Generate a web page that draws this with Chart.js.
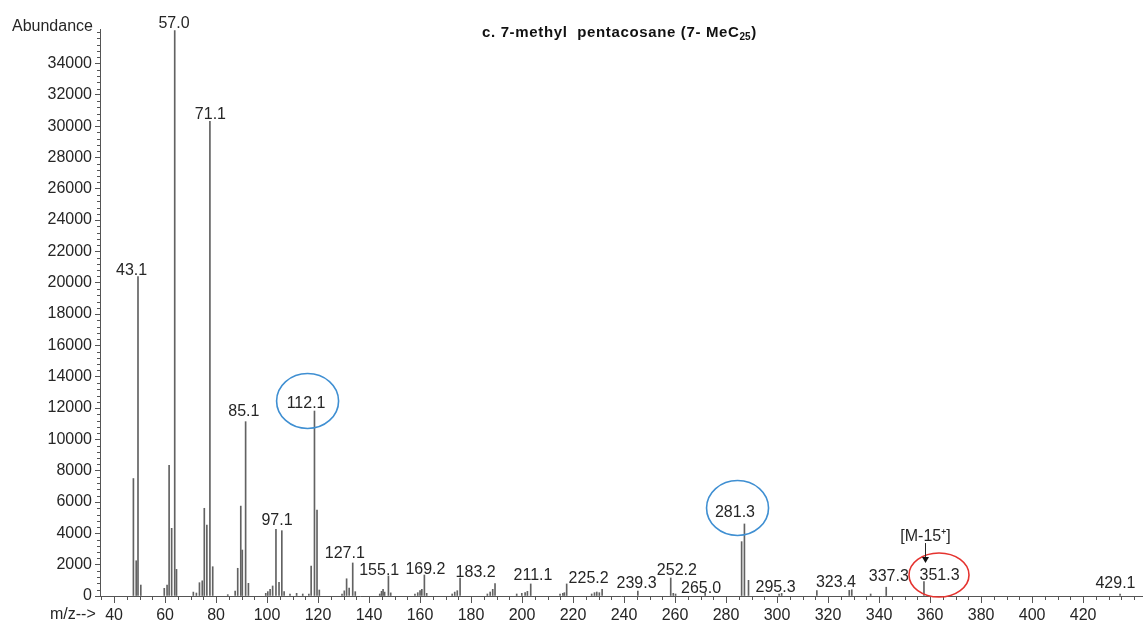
<!DOCTYPE html>
<html>
<head>
<meta charset="utf-8">
<script src="https://cdn.jsdelivr.net/npm/chart.js@4.4.1/dist/chart.umd.min.js"></script>
<style>
    html, body { margin: 0; padding: 0; background: #fff; }
    canvas { display: block; }
</style>
</head>
<body>
<canvas id="espectro" width="1144" height="621"></canvas>
<script>
// Posições dos picos no eixo m/z (como aparecem no gráfico)
const picosMz = [
    47.6, 48.7, 49.4, 50.5,
    59.7, 60.8, 61.6, 62.6, 63.8, 64.5,
    71.1, 72.3, 73.5, 74.6, 75.4, 76.4, 77.6, 78.7,
    84.6, 87.5, 88.5, 89.7, 90.3, 91.6, 92.7,
    99.5, 100.3, 101.2, 102.2, 103.5, 104.7, 105.8, 106.7,
    109.0, 111.6, 114.0, 116.4,
    117.3, 118.6, 119.6, 120.5,
    129.4, 130.3, 131.2, 132.2, 133.6, 134.6,
    144.2, 144.9, 145.5, 146.1, 147.6, 148.5,
    158.0, 159.1, 160.0, 160.7, 161.7, 162.6,
    172.6, 173.6, 174.6, 175.7,
    186.4, 187.5, 188.5, 189.4,
    197.9, 199.9, 201.2, 202.1, 203.4,
    214.9, 216.0, 216.6, 217.5,
    227.3, 228.4, 229.3, 230.3, 231.4,
    245.4,
    258.3, 259.3, 260.2,
    271.8,
    286.1, 287.2, 288.8,
    300.8, 301.8,
    315.6, 328.3, 329.3,
    336.7, 342.8,
    357.6,
    434.5
];

// Abundância de cada pico
const picosAbund = [
    7500, 2250, 20400, 700,
    490, 700, 8340, 4320, 36100, 1700,
    250, 190, 850, 970, 5600, 4530, 30300, 1870,
    85, 320, 1770, 5740, 2935, 11130, 810,
    170, 280, 425, 640, 4255, 870, 4170, 277,
    128, 170, 128, 130,
    1915, 11810, 5490, 383,
    128, 330, 1100, 510, 2110, 277,
    128, 300, 425, 250, 1280, 200,
    128, 213, 340, 425, 1340, 170,
    128, 250, 340, 1150,
    128, 255, 425, 790,
    128, 170, 213, 300, 770,
    128, 170, 213, 770,
    128, 213, 255, 213, 425,
    320,
    1150, 170, 128,
    200,
    3470, 4600, 1000,
    128, 170,
    340, 360, 400,
    128, 560,
    913,
    128
];

// Rótulos dos picos (posição do texto no eixo, altura da linha de base, texto)
const rotulosMz = [46.9, 63.5, 77.8, 90.9, 103.9, 115.3, 130.5, 144.0, 162.1, 181.8, 204.3,
    226.1, 244.9, 260.7, 270.2, 283.5, 299.4, 323.1, 343.8, 363.7, 432.7];
const rotulosAbund = [20500, 36240, 30450, 11470, 4530, 11980, 2400, 1340, 1430, 1230, 990,
    860, 490, 1340, 190, 5020, 275, 545, 945, 1020, 510];
const rotulosTexto = ['43.1', '57.0', '71.1', '85.1', '97.1', '112.1', '127.1', '155.1', '169.2', '183.2', '211.1',
    '225.2', '239.3', '252.2', '265.0', '281.3', '295.3', '323.4', '337.3', '351.3', '429.1'];

// Marcas dos eixos
const ticksX = [40, 60, 80, 100, 120, 140, 160, 180, 200, 220, 240, 260, 280, 300, 320, 340, 360, 380, 400, 420];
const ticksY = [0, 2000, 4000, 6000, 8000, 10000, 12000, 14000, 16000, 18000, 20000,
    22000, 24000, 26000, 28000, 30000, 32000, 34000];

// Círculos de destaque (centro no eixo m/z e na abundância)
const circulosMz = [115.9, 284.5, 363.5];
const circulosAbund = [12450, 5620, 1340];
const circulosCor = ['#3f8fd2', '#3f8fd2', '#e5332f'];

// Seta do íon [M-15+]
const setaMz = 358.2;
const setaTopo = 3380;
const setaPonta = 2100;
const setaTexto = '[M-15\u207A]';
const setaTextoAbund = 3510;

const fonte = '"Liberation Sans", Arial, sans-serif';
const corTexto = '#262626';
const corEixo = '#555';

// Plugin para desenhar textos, círculos, seta e marcas menores
const pluginAnotacoes = {
    id: 'anotacoes',
    afterDraw(chart) {
        const { ctx, chartArea } = chart;
        const x = chart.scales.x;
        const y = chart.scales.y;
        ctx.save();

        // marcas menores dos eixos
        ctx.strokeStyle = corEixo;
        ctx.lineWidth = 1;
        ctx.beginPath();
        for (let v = 35; v <= 440; v += 5) {
            if (v % 20 === 0 && v <= 420) continue;
            const px = Math.round(x.getPixelForValue(v)) + 0.5;
            ctx.moveTo(px, chartArea.bottom);
            ctx.lineTo(px, chartArea.bottom + 4);
        }
        for (let v = 400; v <= 36000; v += 400) {
            if (v % 2000 === 0 && v <= 34000) continue;
            const py = Math.round(y.getPixelForValue(v)) + 0.5;
            ctx.moveTo(chartArea.left - 3, py);
            ctx.lineTo(chartArea.left, py);
        }
        ctx.stroke();

        // rótulos dos picos
        ctx.fillStyle = corTexto;
        ctx.font = '16px ' + fonte;
        ctx.textAlign = 'center';
        ctx.textBaseline = 'alphabetic';
        rotulosTexto.forEach((texto, i) => {
            ctx.fillText(texto, x.getPixelForValue(rotulosMz[i]), y.getPixelForValue(rotulosAbund[i]));
        });

        // círculos
        ctx.lineWidth = 1.6;
        circulosMz.forEach((mz, i) => {
            ctx.strokeStyle = circulosCor[i];
            ctx.beginPath();
            const rx = i === 2 ? 30 : 31;
            const ry = i === 2 ? 22 : 27.5;
            ctx.ellipse(x.getPixelForValue(mz), y.getPixelForValue(circulosAbund[i]), rx, ry, 0, 0, Math.PI * 2);
            ctx.stroke();
        });

        // seta [M-15+]
        const sx = Math.round(x.getPixelForValue(setaMz)) + 0.5;
        const sTopo = y.getPixelForValue(setaTopo);
        const sPonta = y.getPixelForValue(setaPonta);
        ctx.strokeStyle = corTexto;
        ctx.lineWidth = 1;
        ctx.beginPath();
        ctx.moveTo(sx, sTopo);
        ctx.lineTo(sx, sPonta - 6);
        ctx.stroke();
        ctx.fillStyle = '#111';
        ctx.beginPath();
        ctx.moveTo(sx - 3.5, sPonta - 6);
        ctx.lineTo(sx + 3.5, sPonta - 6);
        ctx.lineTo(sx, sPonta);
        ctx.closePath();
        ctx.fill();
        ctx.fillStyle = corTexto;
        ctx.font = '16px ' + fonte;
        ctx.fillText(setaTexto, sx, y.getPixelForValue(setaTextoAbund));

        // textos fixos: Abundance e m/z-->
        ctx.textAlign = 'left';
        ctx.fillText('Abundance', 12, 30.5);
        ctx.fillText('m/z-->', 50, 619);

        // título com subscrito
        ctx.fillStyle = '#111';
        ctx.font = 'bold 15px ' + fonte;
        ctx.letterSpacing = '0.65px';
        const parte1 = 'c. 7-methyl  pentacosane (7- MeC';
        ctx.fillText(parte1, 482, 36.5);
        let largura = ctx.measureText(parte1).width;
        ctx.font = 'bold 10px ' + fonte;
        ctx.letterSpacing = '0px';
        ctx.fillText('25', 482 + largura, 40);
        largura += ctx.measureText('25').width;
        ctx.font = 'bold 15px ' + fonte;
        ctx.fillText(')', 482 + largura + 0.5, 36.5);

        ctx.restore();
    }
};

// Criar o gráfico de barras finas (espectro de massa)
const ctx = document.getElementById('espectro').getContext('2d');
const grafico = new Chart(ctx, {
    type: 'bar',
    data: {
        datasets: [{
            data: picosMz.map((mz, i) => ({ x: mz, y: picosAbund[i] })),
            backgroundColor: '#626262',
            borderWidth: 0,
            barThickness: 1
        }]
    },
    options: {
        responsive: false,
        animation: false,
        layout: { padding: { top: 29, right: 2, left: 0, bottom: 0 } },
        plugins: {
            legend: { display: false },
            tooltip: { enabled: false }
        },
        scales: {
            x: {
                type: 'linear',
                min: 34.5,
                max: 443.1,
                offset: false,
                grid: { drawOnChartArea: false, offset: false, tickLength: 7, color: corEixo },
                border: { color: corEixo },
                ticks: {
                    autoSkip: false,
                    maxRotation: 0,
                    padding: 3,
                    color: corTexto,
                    font: { family: fonte, size: 16, lineHeight: 1.2 },
                    callback: (valor) => String(valor)
                },
                afterBuildTicks: (escala) => { escala.ticks = ticksX.map(v => ({ value: v })); },
                afterFit: (escala) => { escala.height = 25; }
            },
            y: {
                min: 0,
                max: 36200,
                grid: { drawOnChartArea: false, tickLength: 5, color: corEixo },
                border: { color: corEixo },
                ticks: {
                    autoSkip: false,
                    padding: 3,
                    color: corTexto,
                    font: { family: fonte, size: 16 },
                    callback: (valor) => String(valor)
                },
                afterBuildTicks: (escala) => { escala.ticks = ticksY.map(v => ({ value: v })); },
                afterFit: (escala) => { escala.width = 100; }
            }
        }
    },
    plugins: [pluginAnotacoes]
});
</script>
</body>
</html>
